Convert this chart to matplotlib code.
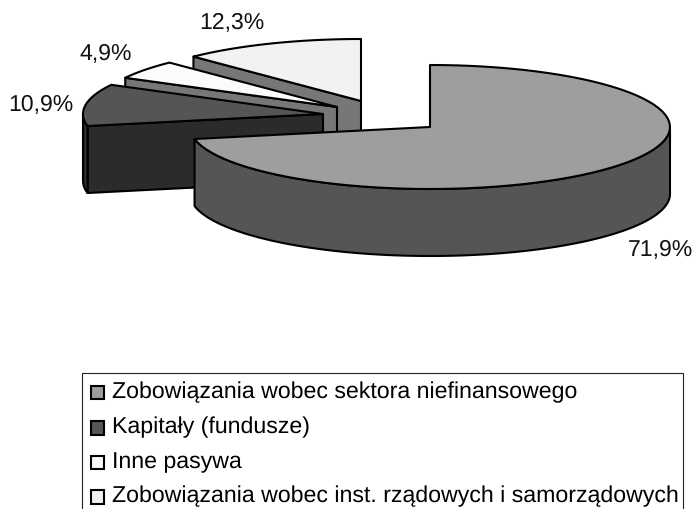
import numpy as np
import matplotlib
matplotlib.use('Agg')
import matplotlib.pyplot as plt
from matplotlib.patches import Polygon, Rectangle

plt.rcParams['font.family'] = ['Liberation Sans', 'DejaVu Sans']
plt.rcParams['text.hinting'] = 'none'

categories = ['Zobowiązania wobec sektora niefinansowego',
              'Kapitały (fundusze)',
              'Inne pasywa',
              'Zobowiązania wobec inst. rządowych i samorządowych']
values = [71.9, 10.9, 4.9, 12.3]
labels = ['71,9%', '10,9%', '4,9%', '12,3%']

# styling and layout, in pixels of the 695x509 canvas
top_colors = ['#9e9e9e', '#555555', '#fbfbfb', '#f2f2f2']
rim_colors = ['#555555', '#2b2b2b', '#777777', '#777777']
cut_colors = ['#555555', '#2b2b2b', '#777777', '#777777']
centers = [(430, 127), (323, 114), (337, 107), (361, 101)]
label_pos = [(660, 250), (41, 105), (106, 54), (232, 23)]
rx, ry, depth = 240, 62, 67
line = 1.5


def rim(center, start, end, n=80):
	t = np.radians(np.linspace(start, end, n))
	return np.column_stack((center[0] + rx * np.sin(t), center[1] - ry * np.cos(t)))


def draw_slice(ax, center, start, end, top, side, cut):
	down = np.array([0, depth])
	# cut face on the left side of the wedge, only seen when facing the viewer
	if 180 < start < 360:
		p = rim(center, start, start, 1)[0]
		ax.add_patch(Polygon([center, p, p + down, np.array(center) + down],
			closed=True, fc=cut, ec='black', lw=line, joinstyle='round'))
	# outer wall, the part of the rim in front of the pie
	a, b = max(start, 90), min(end, 270)
	if a < b:
		arc = rim(center, a, b)
		ax.add_patch(Polygon(np.vstack((arc, (arc + down)[::-1])),
			closed=True, fc=side, ec='black', lw=line, joinstyle='round'))
	arc = rim(center, start, end)
	ax.add_patch(Polygon(np.vstack(([center], arc)),
		closed=True, fc=top, ec='black', lw=line, joinstyle='round'))


fig = plt.figure(figsize=(6.95, 5.09), dpi=100)
ax = fig.add_axes([0, 0, 1, 1])
ax.set_xlim(0, 695)
ax.set_ylim(509, 0)
ax.axis('off')

angles = np.concatenate(([0], np.cumsum(values) / np.sum(values) * 360))
# back slices first, the big one covers the rest
for i in [3, 2, 1, 0]:
	draw_slice(ax, centers[i], angles[i], angles[i + 1], top_colors[i], rim_colors[i], cut_colors[i])

for lab, pos in zip(labels, label_pos):
	ax.text(pos[0], pos[1], lab, fontsize=16.6, ha='center', va='center', color='#111111')

# legend box runs off the bottom of the picture
ax.add_patch(Rectangle((82, 373), 601, 160, fc='white', ec='#222222', lw=0.8))
rows = [392, 427.5, 462, 496.5]
for i, name in enumerate(categories):
	ax.add_patch(Rectangle((90.5, rows[i] - 6.5), 13.5, 13.5, fc=top_colors[i], ec='black', lw=1.5))
	ax.text(112, rows[i], name, fontsize=16.7, ha='left', va='center', color='#000000')

fig.savefig('out.png', dpi=100)
